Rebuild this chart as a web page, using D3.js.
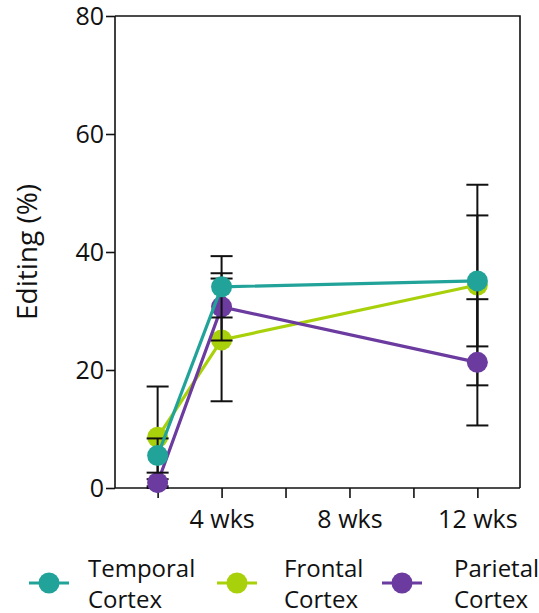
<!DOCTYPE html>
<html lang="en">
  <head>
    <meta charset="utf-8">
    <title>Editing by region</title>
    <script src="https://d3js.org/d3.v7.min.js"></script>
    <style>
      body { margin: 0; background: #fff; }
      #chart text { font-family: "Open Sans", "Noto Sans", sans-serif; fill: #111; }
    </style>
  </head>
  <body>
    <div id="chart"></div>

    <script type="text/javascript">
      "use strict"
      // time points (weeks) and the tick labels on the x axis
      var weeks = [2, 4, 12];
      var xTicks = [2, 4, 6, 8, 10, 12];
      var xTickLabels = ["", "4 wks", "", "8 wks", "", "12 wks"];
      var yTicks = [0, 20, 40, 60, 80];

      // one list per region: mean and error bar half-length
      var seriesNames = ["Temporal\nCortex", "Frontal\nCortex", "Parietal\nCortex"];
      var temporalMean = [5.5, 34.1, 35.1];
      var temporalErr  = [2.9, 5.2, 11.1];
      var frontalMean  = [8.6, 25.1, 34.4];
      var frontalErr   = [8.6, 10.4, 17.0];
      var parietalMean = [0.9, 30.7, 21.3];
      var parietalErr  = [0.6, 5.7, 10.7];

      var colors = ["#22a39a", "#a9d10b", "#6b3b9f"];

      var series = [
        {name: seriesNames[0], mean: temporalMean, err: temporalErr, color: colors[0]},
        {name: seriesNames[1], mean: frontalMean, err: frontalErr, color: colors[1]},
        {name: seriesNames[2], mean: parietalMean, err: parietalErr, color: colors[2]}
      ];

      var larguraSVG = 539, alturaSVG = 613;
      var margin = {top: 16, left: 115, right: 19, bottom: 125};
      var w = larguraSVG - margin.left - margin.right,
          h = alturaSVG - margin.top - margin.bottom;

      var svg = d3.select('#chart').append('svg')
          .attr('width', larguraSVG)
          .attr('height', alturaSVG);
      var g = svg.append('g')
          .attr('transform', 'translate(' + margin.left + ',' + margin.top + ')');

      // scales
      var x = d3.scaleLinear().domain([2 / 3, 40 / 3]).range([0, w]);
      var y = d3.scaleLinear().domain([0, 80]).range([h, 0]);

      // frame top / right
      g.append('path')
        .attr('d', 'M0,0H' + w + 'V' + h)
        .attr('fill', 'none')
        .attr('stroke', '#111')
        .attr('stroke-width', 1.6);

      // axes
      var yAxis = g.append('g')
        .call(d3.axisLeft(y).tickValues(yTicks).tickSize(9).tickPadding(2));
      var xAxis = g.append('g')
        .attr('transform', 'translate(0,' + h + ')')
        .call(d3.axisBottom(x).tickValues(xTicks).tickSize(10).tickPadding(12)
          .tickFormat((d, i) => xTickLabels[i]));
      [xAxis, yAxis].forEach(a => {
        a.selectAll('.domain').attr('stroke', '#111').attr('stroke-width', 1.6);
        a.selectAll('.tick line').attr('stroke', '#111').attr('stroke-width', 1.6);
        a.selectAll('.tick text').style('font-size', '25px');
      });
      xAxis.select('.domain').attr('d', 'M0,0H' + w);
      yAxis.select('.domain').attr('d', 'M0,0V' + h);

      g.append('text')
        .attr('transform', 'translate(-78,' + (h / 2) + ') rotate(-90)')
        .attr('text-anchor', 'middle')
        .style('font-size', '28px')
        .text('Editing (%)');

      // marks: frontal, parietal, temporal drawing order
      var line = d3.line().x((d, i) => x(weeks[i])).y(d => y(d));
      var capW = 11;
      [1, 2, 0].forEach(k => {
        var s = series[k];
        var sg = g.append('g');
        var eb = sg.selectAll('g.err').data(s.mean).enter().append('g')
          .attr('stroke', '#111').attr('stroke-width', 2);
        eb.append('line')
          .attr('x1', (d, i) => x(weeks[i])).attr('x2', (d, i) => x(weeks[i]))
          .attr('y1', (d, i) => y(d + s.err[i])).attr('y2', (d, i) => y(d - s.err[i]));
        eb.append('line')
          .attr('x1', (d, i) => x(weeks[i]) - capW).attr('x2', (d, i) => x(weeks[i]) + capW)
          .attr('y1', (d, i) => y(d + s.err[i])).attr('y2', (d, i) => y(d + s.err[i]));
        eb.append('line')
          .attr('x1', (d, i) => x(weeks[i]) - capW).attr('x2', (d, i) => x(weeks[i]) + capW)
          .attr('y1', (d, i) => y(d - s.err[i])).attr('y2', (d, i) => y(d - s.err[i]));
        sg.append('path')
          .attr('d', line(s.mean))
          .attr('fill', 'none')
          .attr('stroke', s.color)
          .attr('stroke-width', 3.2);
        sg.selectAll('circle').data(s.mean).enter().append('circle')
          .attr('cx', (d, i) => x(weeks[i]))
          .attr('cy', d => y(d))
          .attr('r', 10.5)
          .attr('fill', s.color);
      });

      // legend
      var legX = [49, 237, 402];
      var legTextX = [88, 284, 454];
      var legY = 583;
      var leg = svg.selectAll('g.leg').data(series).enter().append('g')
        .attr('class', 'leg');
      leg.append('line')
        .attr('x1', (d, i) => legX[i] - 20).attr('x2', (d, i) => legX[i] + 20)
        .attr('y1', legY).attr('y2', legY)
        .attr('stroke', d => d.color).attr('stroke-width', 3.2);
      leg.append('circle')
        .attr('cx', (d, i) => legX[i]).attr('cy', legY).attr('r', 10.5)
        .attr('fill', d => d.color);
      var lt = leg.append('text')
        .attr('x', (d, i) => legTextX[i])
        .attr('y', 577)
        .style('font-size', '24px');
      lt.selectAll('tspan').data(d => d.name.split('\n')).enter().append('tspan')
        .attr('x', function () { return this.parentNode.getAttribute('x'); })
        .attr('dy', (d, i) => i === 0 ? 0 : 31)
        .text(d => d);
    </script>
  </body>
</html>
